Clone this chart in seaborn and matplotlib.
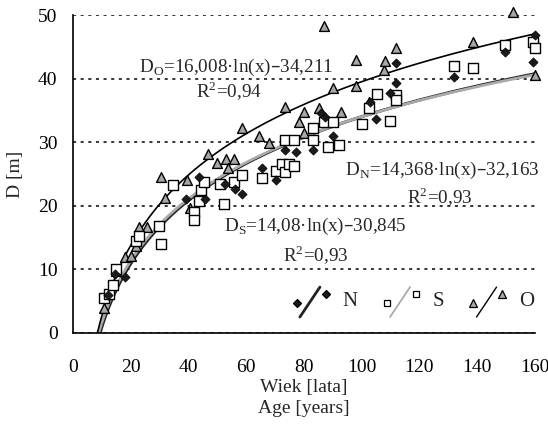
import numpy as np
import pandas as pd
import seaborn as sns
import matplotlib.pyplot as plt
from matplotlib.lines import Line2D
from matplotlib.legend_handler import HandlerBase

# Dane: wiek [lata] i D [m]
n_age = [12, 14.5, 18, 39.3, 43.6, 45.8, 52.6, 56, 58.5, 65.5, 70.3, 73.3, 77.4, 83.2,
         86, 87.4, 90, 103, 105, 110, 112, 112, 132, 149.7, 160, 159.3]
n_d = [6.0, 9.2, 8.8, 21.1, 24.5, 21.0, 23.5, 22.7, 21.8, 26.0, 24.0, 28.8, 28.4, 28.8,
       34.6, 33.9, 30.9, 36.3, 33.6, 37.7, 39.3, 42.4, 40.2, 44.2, 46.8, 42.6]

s_age = [10.7, 12.4, 13.8, 14.8, 21.7, 23, 29.9, 30.6, 34.8, 42, 42, 43.7, 44.4, 45.4,
         51, 52.3, 55.7, 58.5, 65.4, 70.3, 72.5, 73.3, 74.8, 76.7, 73.3, 76.7, 83.2,
         83.2, 87, 88.2, 90.1, 92.2, 100.2, 102.5, 105.2, 109.8, 112, 112, 132, 138.7,
         149.7, 159.3, 160]
s_d = [5.5, 6.1, 7.5, 10.1, 14.4, 15.3, 16.9, 14.0, 23.2, 19.0, 17.8, 20.8, 22.5, 23.7,
       23.5, 20.3, 23.7, 24.8, 24.4, 25.5, 26.6, 25.3, 26.6, 26.2, 30.3, 30.3, 30.4,
       32.2, 33.1, 29.2, 33.1, 29.6, 32.9, 35.4, 37.5, 33.3, 37.4, 36.6, 42.0, 41.6,
       45.3, 45.7, 44.8]

o_age = [10.7, 12.4, 14.8, 17.9, 20, 21.7, 22.4, 23, 25.8, 30.6, 32, 39.6, 40.6, 46.8,
         49.9, 53, 55.7, 53.7, 58.5, 64.5, 68, 73.3, 78.3, 80, 80, 85.4, 87, 90, 93,
         98, 98, 102.5, 107.7, 108, 112, 138.7, 152.5, 160]
o_d = [4.0, 6.1, 9.8, 12.0, 12.1, 13.7, 15.3, 16.6, 16.6, 24.5, 21.3, 24.0, 19.7, 28.1,
       26.7, 27.3, 27.3, 25.9, 32.3, 31.0, 29.8, 35.6, 33.2, 34.7, 31.5, 35.3, 48.3,
       38.5, 34.7, 42.9, 38.8, 36.3, 41.3, 42.7, 44.8, 45.7, 50.5, 40.5]

# Wspolczynniki trendu D = a*ln(x) + b
fit_a = {'N': 14.368, 'S': 14.08, 'O': 16.008}
fit_b = {'N': -32.163, 'S': -30.845, 'O': -34.211}

sns.set_style("white")
plt.rcParams['font.family'] = ['Liberation Serif', 'DejaVu Serif']

fig = plt.figure(figsize=(5.48, 4.25), dpi=100)
ax = fig.add_axes([0.133, 0.2165, 0.843, 0.7482])

ax.yaxis.grid(True, linestyle=(0, (2, 3)), color='black', linewidth=1.1)
ax.set_axisbelow(True)

# Krzywe trendu
styles = {'N': ('#222222', 2.2), 'S': ('#aaaaaa', 2.0), 'O': ('black', 1.2)}
for key in ['N', 'S', 'O']:
    x0 = np.exp(-fit_b[key] / fit_a[key])
    xs = np.linspace(x0, 160, 300)
    ys = fit_a[key] * np.log(xs) + fit_b[key]
    sns.lineplot(x=xs, y=ys, ax=ax, color=styles[key][0], linewidth=styles[key][1])

# Punkty pomiarowe
sns.scatterplot(x=o_age, y=o_d, ax=ax, marker='^', s=50, color='#a6a6a6',
                edgecolor='black', linewidth=1.0, clip_on=False, zorder=3)
sns.scatterplot(x=s_age, y=s_d, ax=ax, marker='s', s=42, color='white',
                edgecolor='black', linewidth=1.0, clip_on=False, zorder=3)
sns.scatterplot(x=n_age, y=n_d, ax=ax, marker='D', s=22, color='#1a1a1a',
                edgecolor='black', linewidth=0.5, clip_on=False, zorder=4)

ax.set_xlim(0, 160)
ax.set_ylim(0, 50)
ax.set_xticks(range(0, 161, 20))
ax.set_yticks(range(0, 51, 10))
ax.tick_params(axis='x', direction='out', length=6, width=1.2, labelsize=14,
               colors='black', pad=13)
ax.tick_params(axis='y', direction='inout', length=10, width=1.2, labelsize=14,
               colors='black', pad=6)
sns.despine(ax=ax)
for sp in ['left', 'bottom']:
    ax.spines[sp].set_color('black')
    ax.spines[sp].set_linewidth(1.2)

ax.set_xlabel('Wiek [lata]\nAge [years]', fontsize=14, linespacing=1.3, labelpad=2)
ax.set_ylabel('D [m]', fontsize=14, labelpad=10)

# Rownania
tkw = dict(fontsize=13.8, ha='center', va='center')
ax.text(56.5, 41.8, r'D$_\mathregular{O}$=16,008·ln(x)–34,211', **tkw)
ax.text(54, 38.0, r'R$^\mathregular{2}$=0,94', **tkw)
ax.text(128, 25.6, r'D$_\mathregular{N}$=14,368·ln(x)–32,163', **tkw)
ax.text(127, 21.4, r'R$^\mathregular{2}$=0,93', **tkw)
ax.text(84, 16.7, r'D$_\mathregular{S}$=14,08·ln(x)–30,845', **tkw)
ax.text(84, 12.3, r'R$^\mathregular{2}$=0,93', **tkw)


class SlashHandler(HandlerBase):
    def create_artists(self, legend, orig_handle, xdescent, ydescent, width, height,
                       fontsize, trans):
        h = orig_handle
        x0, y0 = -xdescent, -ydescent
        line = Line2D([x0 + 0.15 * width, x0 + 0.75 * width],
                      [y0 - 0.75 * height, y0 + 1.3 * height],
                      color=h.get_color(), linewidth=h.get_linewidth())
        mk = dict(marker=h.get_marker(), markersize=h.get_markersize(), linestyle='none',
                  markerfacecolor=h.get_markerfacecolor(),
                  markeredgecolor='black', markeredgewidth=0.9)
        m1 = Line2D([x0 + 0.05 * width], [y0 + 0.2 * height], **mk)
        m2 = Line2D([x0 + 0.92 * width], [y0 + 0.8 * height], **mk)
        for a in (line, m1, m2):
            a.set_transform(trans)
        return [line, m1, m2]


handles = [
    Line2D([], [], color='#222222', linewidth=2.0, marker='D', markersize=3.8,
           markerfacecolor='#1a1a1a'),
    Line2D([], [], color='#aaaaaa', linewidth=1.3, marker='s', markersize=5,
           markerfacecolor='white'),
    Line2D([], [], color='black', linewidth=1.0, marker='^', markersize=5.5,
           markerfacecolor='#a6a6a6'),
]
ax.legend(handles, ['N', 'S', 'O'], handler_map={Line2D: SlashHandler()},
          loc='lower right', bbox_to_anchor=(1.04, 0.01), ncol=3, frameon=False,
          fontsize=15, handlelength=1.6, columnspacing=1.3, handletextpad=0.7)

fig.savefig('out.png', dpi=100)
